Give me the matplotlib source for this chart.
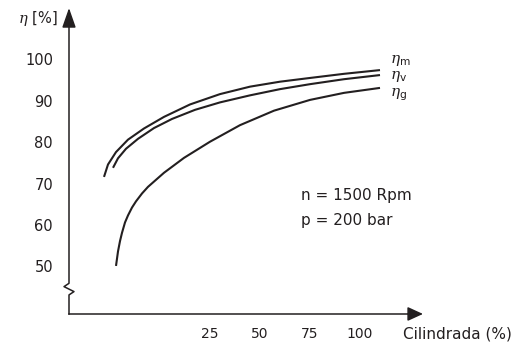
import matplotlib
matplotlib.use("Agg")
import matplotlib.pyplot as plt

# efficiency curves vs displacement
x_ticks = [25, 50, 75, 100]
y_ticks = [50, 60, 70, 80, 90, 100]

eta_m_x = [-28, -26, -22, -16, -8, 2, 15, 30, 45, 60, 75, 92, 110]
eta_m_y = [72.0, 75.0, 78.0, 81.0, 83.7, 86.5, 89.5, 92.0, 93.8, 95.0, 95.9, 96.9, 97.8]

eta_v_x = [-23.5, -21, -17, -11, -3, 6, 17.5, 30, 45, 60, 75, 92, 110]
eta_v_y = [74.2, 76.5, 78.8, 81.2, 83.8, 86.0, 88.2, 90.0, 91.7, 93.2, 94.4, 95.6, 96.6]

eta_g_x = [-22, -21, -20, -19, -17.5, -16, -14, -12, -9, -6, 2, 12, 25, 40, 57, 75, 92, 110]
eta_g_y = [50.5, 54.0, 56.5, 58.5, 61.0, 62.7, 64.6, 66.1, 68.0, 69.6, 73.0, 76.6, 80.5,
           84.5, 88.0, 90.6, 92.3, 93.5]

curve_labels = ["m", "v", "g"]
notes = ["n = 1500 Rpm", "p = 200 bar"]

ink = "#231f20"
plt.rcParams["font.family"] = ["DejaVu Sans"]
plt.rcParams["mathtext.fontset"] = "custom"
plt.rcParams["mathtext.rm"] = "DejaVu Sans"
plt.rcParams["mathtext.it"] = "DejaVu Serif:italic"

fig = plt.figure(figsize=(5.18, 3.46), dpi=100)
ax = fig.add_axes([0, 0, 1, 1])
ax.set_xlim(-80, 179)
ax.set_ylim(31.16, 114.73)
ax.axis("off")

x0 = -45.5   # where the y axis sits
y0 = 38.9    # where the x axis sits

# y axis with break mark near the bottom
ax.plot([x0, x0, x0 + 2.5, x0 - 2.5, x0, x0],
        [y0, 43.5, 44.3, 45.5, 46.3, 109], color=ink, lw=1.1)
ax.annotate("", xy=(x0, 112.8), xytext=(x0, 108.5),
            arrowprops=dict(arrowstyle="-|>,head_length=1.2,head_width=0.42",
                            color=ink, lw=1.1, shrinkA=0, shrinkB=0,
                            mutation_scale=10))
# x axis
ax.plot([x0, 125], [y0, y0], color=ink, lw=1.1)
ax.annotate("", xy=(131.5, y0), xytext=(124, y0),
            arrowprops=dict(arrowstyle="-|>,head_length=0.94,head_width=0.43",
                            color=ink, lw=1.1, shrinkA=0, shrinkB=0,
                            mutation_scale=10))

# curves
for xs, ys in [(eta_m_x, eta_m_y), (eta_v_x, eta_v_y), (eta_g_x, eta_g_y)]:
    ax.plot(xs, ys, color=ink, lw=1.5, solid_capstyle="butt", solid_joinstyle="round")

# tick labels
for v in y_ticks:
    ax.text(-53.5, v, str(v), ha="right", va="center", fontsize=10.5, color=ink)
for v in x_ticks:
    ax.text(v, 34.1, str(v), ha="center", va="center", fontsize=10, color=ink)

ax.text(121.5, 34.1, "Cilindrada (%)", ha="left", va="center", fontsize=11, color=ink)
ax.text(-51, 110.2, r"$\eta$ [%]", ha="right", va="center", fontsize=10.5, color=ink)

# curve labels
for lab, ey in zip(curve_labels, [99.5, 95.7, 91.5]):
    ax.text(115, ey, r"$\eta_{\mathrm{%s}}$" % lab, ha="left", va="baseline",
            fontsize=11, color=ink)

ax.text(70.5, 67.4, notes[0], ha="left", va="center", fontsize=11, color=ink)
ax.text(70.5, 61.5, notes[1], ha="left", va="center", fontsize=11, color=ink)

fig.savefig("out.png", dpi=100)
